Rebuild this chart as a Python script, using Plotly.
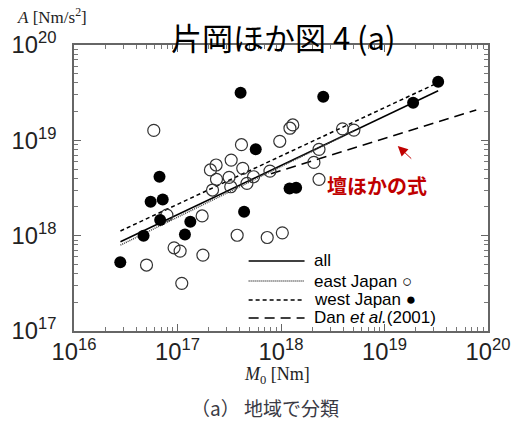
import plotly.graph_objects as go

# ---------------- data ----------------
west_m0 = [2.8e16, 4.7e16, 5.5e16, 7.2e16, 6.8e16, 6.7e16, 1.18e17, 1.33e17,
           4.07e17, 5.7e17, 4.4e17, 1.21e18, 1.40e18, 2.56e18, 1.89e19, 3.3e19]
west_a = [5.25e17, 1.0e18, 2.27e18, 2.4e18, 1.46e18, 4.15e18, 1.03e18, 1.40e18,
          3.16e19, 8.05e18, 1.78e18, 3.13e18, 3.18e18, 2.86e19, 2.48e19, 4.12e19]

east_m0 = [5.9e16, 5.02e16, 7.9e16, 1.73e17, 9.27e16, 1.06e17, 1.76e17, 1.10e17,
           3.30e17, 2.36e17, 2.08e17, 4.27e17, 2.38e17, 3.15e17, 5.43e17, 7.82e17,
           2.18e17, 3.27e17, 4.69e17, 4.15e17, 9.73e17, 1.22e18, 1.30e18, 3.93e18,
           5.06e18, 2.33e18, 2.08e18, 2.33e18, 3.77e17, 7.36e17, 1.03e18]
east_a = [1.27e19, 4.92e17, 1.64e18, 1.61e18, 7.46e17, 6.89e17, 6.25e17, 3.16e17,
          6.21e18, 5.51e18, 4.89e18, 5.08e18, 3.90e18, 4.09e18, 4.15e18, 4.76e18,
          3.01e18, 3.26e18, 3.54e18, 9.0e18, 9.77e18, 1.34e19, 1.45e19, 1.32e19,
          1.28e19, 8.05e18, 5.87e18, 3.90e18, 1.01e18, 9.57e17, 1.07e18]

# regression lines (end points)
all_m0 = [2.81e16, 3.30e19]
all_a = [8.63e17, 3.31e19]
eastfit_m0 = [2.81e16, 5.02e18]
eastfit_a = [7.96e17, 1.25e19]
westfit_m0 = [2.81e16, 3.09e19]
westfit_a = [1.12e18, 3.90e19]
dan_m0 = [8.0e17, 7.7e19]
dan_a = [4.47e18, 2.08e19]

x_range_exp = [16, 20]
y_range_exp = [17, 20]

legend_names = ["all", "east Japan ○", "west Japan ●", "Dan <i>et al.</i>(2001)"]

title_text = "片岡ほか図 4 (a)"
ytitle_text = "<i>A</i> [Nm/s<sup>2</sup>]"
xtitle_text = "<i>M</i><sub>0</sub> [Nm]"
caption_text = "（a） 地域で分類"
note_text = "<b>壇ほかの式</b>"

# ---------------- styles ----------------
line_styles = [
    dict(color="black", width=1.5),
    dict(color="#444444", width=1.5, dash="1px,1px"),
    dict(color="black", width=1.5, dash="4px,3px"),
    dict(color="black", width=1.5, dash="10px,6px"),
]
fit_x = [all_m0, eastfit_m0, westfit_m0, dan_m0]
fit_y = [all_a, eastfit_a, westfit_a, dan_a]

# manual legend layout (paper coordinates)
leg_x0, leg_x1, leg_tx = 0.4218, 0.5569, 0.5758
leg_y = [0.2448, 0.1748, 0.1084, 0.0455]

fig = go.Figure()

for xs, ys, name, st in zip(fit_x, fit_y, legend_names, line_styles):
    fig.add_trace(go.Scatter(x=xs, y=ys, mode="lines", name=name, line=st,
                             showlegend=False))

fig.add_trace(go.Scatter(x=east_m0, y=east_a, mode="markers", showlegend=False,
                         name="east Japan",
                         marker=dict(symbol="circle-open", size=12,
                                     color="#333333", line=dict(width=1.2, color="#333333"))))
fig.add_trace(go.Scatter(x=west_m0, y=west_a, mode="markers", showlegend=False,
                         name="west Japan",
                         marker=dict(symbol="circle", size=12, color="black",
                                     line=dict(width=0))))

tick_font = dict(family="Liberation Sans, Arial, sans-serif", size=19, color="#222222")
axis_common = dict(
    type="log", dtick=1, exponentformat="power", showgrid=False, zeroline=False,
    showline=True, linecolor="#666666", linewidth=1.5, mirror="allticks",
    ticks="inside", ticklen=7, tickcolor="#666666", tickwidth=1,
    minor=dict(ticks="inside", ticklen=4, tickcolor="#777777", tickwidth=1, showgrid=False),
    tickfont=tick_font,
)

fig.update_xaxes(range=x_range_exp, **axis_common)
fig.update_yaxes(range=y_range_exp, ticklabelstandoff=12, **axis_common)

shapes = []
annotations = []
for name, st, y in zip(legend_names, line_styles, leg_y):
    shapes.append(dict(type="line", xref="paper", yref="paper",
                       x0=leg_x0, x1=leg_x1, y0=y, y1=y, line=st))
    annotations.append(dict(text=name, xref="paper", yref="paper", x=leg_tx, y=y,
                            xanchor="left", yanchor="middle", showarrow=False,
                            font=dict(family="Liberation Sans, Arial, sans-serif",
                                      size=17, color="black")))

annotations += [
    dict(text=title_text, xref="paper", yref="paper", x=0.507, y=1.031,
         xanchor="center", yanchor="middle", showarrow=False,
         font=dict(family="Noto Sans CJK JP", size=31, color="black")),
    dict(text=ytitle_text, xref="paper", yref="paper", x=-0.143, y=1.10,
         xanchor="left", yanchor="middle", showarrow=False,
         font=dict(family="Liberation Serif, serif", size=17, color="#222222")),
    dict(text=xtitle_text, xref="paper", yref="paper", x=0.49, y=-0.155,
         xanchor="center", yanchor="middle", showarrow=False,
         font=dict(family="Liberation Serif, serif", size=18, color="#222222")),
    dict(text=caption_text, xref="paper", yref="paper", x=0.462, y=-0.268,
         xanchor="center", yanchor="middle", showarrow=False,
         font=dict(family="Noto Sans CJK JP", size=19, color="#3a3a44")),
    dict(text=note_text, xref="paper", yref="paper", x=0.732, y=0.51,
         xanchor="center", yanchor="middle", showarrow=False,
         font=dict(family="Noto Sans CJK JP", size=20, color="#c00000")),
    dict(text="", xref="paper", yref="paper", x=(402 - 72) / 422, y=(331 - 146) / 286,
         ax=15, ay=14, showarrow=True, arrowhead=2, arrowsize=2,
         arrowwidth=1, arrowcolor="#c00000"),
]

fig.update_layout(
    width=522, height=421,
    margin=dict(l=72, r=28, t=45, b=90),
    paper_bgcolor="white", plot_bgcolor="white",
    showlegend=False,
    shapes=shapes,
    annotations=annotations,
)

fig.write_html("out.html",
               config={"displayModeBar": False},
               post_script="document.body.style.margin='0px';"
                           "document.body.style.overflow='hidden';")
